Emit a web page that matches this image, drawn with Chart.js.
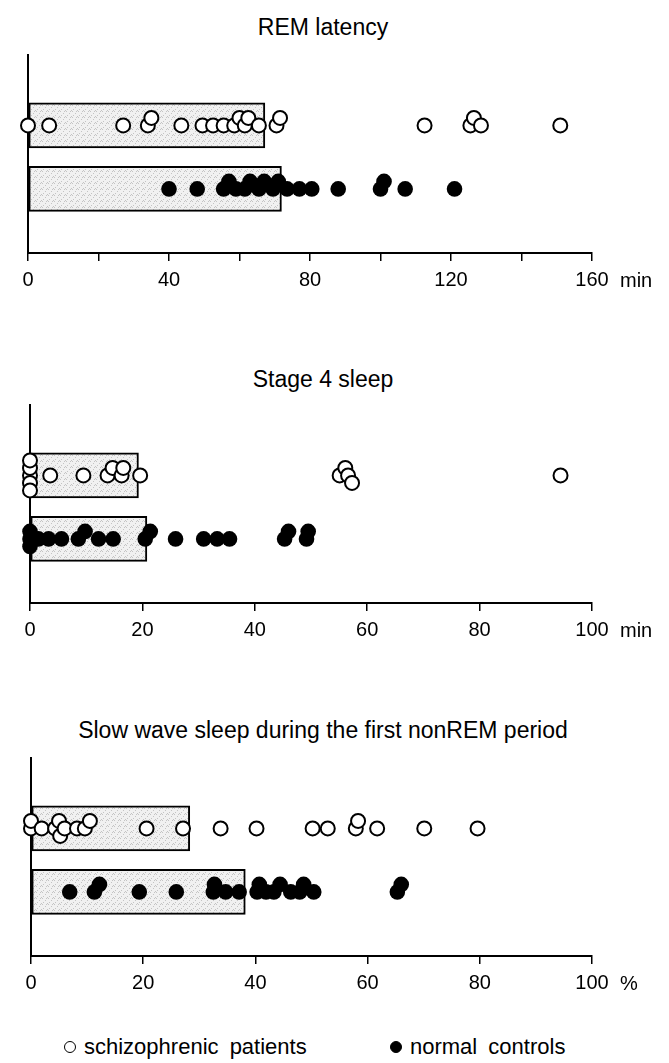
<!DOCTYPE html>
<html>
<head>
<meta charset="utf-8">
<script src="https://cdn.jsdelivr.net/npm/chart.js@4.4.1/dist/chart.umd.min.js"></script>
<style>
  html, body { margin: 0; padding: 0; background: #fff; }
  body { width: 669px; height: 1063px; position: relative; overflow: hidden;
         font-family: "Liberation Sans", Arial, sans-serif; color: #000; }
  .panel { position: absolute; left: 0; }
  .title { position: absolute; left: 0; width: 646px; text-align: center;
           font-size: 23px; line-height: 24px; }
  .legend { position: absolute; top: 1034px; font-size: 22px; line-height: 26px;
            word-spacing: 5px; white-space: nowrap; }
  .sym { display: inline-block; width: 12px; height: 12px; border-radius: 50%;
         border: 1.5px solid #000; box-sizing: border-box; margin-right: 8px;
         vertical-align: 1px; }
</style>
</head>
<body>

<div class="title" style="top:15px">REM latency</div>
<div class="panel" style="top:45px"><canvas id="remChart" width="669" height="258"></canvas></div>

<div class="title" style="top:367px">Stage 4 sleep</div>
<div class="panel" style="top:395px"><canvas id="stage4Chart" width="669" height="258"></canvas></div>

<div class="title" style="top:718px">Slow wave sleep during the first nonREM period</div>
<div class="panel" style="top:748px"><canvas id="swsChart" width="669" height="258"></canvas></div>

<div class="legend" style="left:64px"><span class="sym"></span>schizophrenic patients</div>
<div class="legend" style="left:390px"><span class="sym" style="background:#000"></span>normal controls</div>

<script>
// values (minutes / percent)
const remPatients = [0, 6, 27, 34, 35, 43.5, 49.5, 52.5, 55.5, 58.5, 60, 61.5, 62.5, 65.5,
  70.5, 71.5, 112.5, 125.5, 126.5, 128.5, 151];
const remControls = [40, 48, 55.5, 57, 59, 61.5, 63, 65.5, 67, 69.5, 71, 73.5, 77, 80.5,
  88, 100, 101, 107, 121];
const remMeans = [67.2, 71.9]; // patients, controls

const stage4Patients = [0, 0, 0, 0, 0, 3.6, 9.5, 13.8, 14.7, 16.3, 16.6, 19.6,
  55.1, 56.1, 56.6, 57.3, 94.4];
const stage4Controls = [0, 0, 0, 1.5, 3.3, 5.6, 8.6, 9.8, 12.2, 14.8, 20.5, 21.4, 25.9,
  30.9, 33.3, 35.5, 45.3, 46, 49.2, 49.5];
const stage4Means = [19.3, 20.8];

const swsPatients = [0, 0, 1.9, 4.3, 5.0, 5.2, 6.0, 8.2, 9.6, 10.5, 20.6, 27.1, 33.8,
  40.2, 50.2, 52.9, 57.9, 58.3, 61.7, 70.1, 79.6];
const swsControls = [6.9, 11.3, 12.2, 19.3, 25.9, 32.5, 32.7, 34.7, 37.1, 40.3, 40.7,
  41.9, 43.3, 44.4, 46.3, 47.9, 48.6, 50.4, 65.3, 66];
const swsMeans = [28.3, 38.2];

// row centres on the (hidden) vertical scale
const ROW_PATIENTS = 1.75;
const ROW_CONTROLS = 0.75;
const STEP = 7.5;      // px between stacked dots
const MIN_DIST = 7.5;  // px, dots closer than this get pushed up/down

// light stippled fill like the printed bars
function stipple() {
  const c = document.createElement("canvas");
  c.width = 6; c.height = 6;
  const g = c.getContext("2d");
  g.fillStyle = "#f1f1f1";
  g.fillRect(0, 0, 6, 6);
  g.fillStyle = "#c4c4c4";
  [[0, 0], [3, 2], [1, 4], [5, 5], [4, 0]].forEach(([x, y]) => g.fillRect(x, y, 1, 1));
  return g.createPattern(c, "repeat");
}
const barFill = stipple();

// unit text after the last tick label
const unitLabel = {
  id: "unitLabel",
  afterDraw(chart, args, opts) {
    const { ctx, scales } = chart;
    const x = scales.x.getPixelForValue(scales.x.max) + 28;
    const y = chart.chartArea.bottom + 28;
    ctx.save();
    ctx.font = '20px "Liberation Sans", Arial, sans-serif';
    ctx.fillStyle = "#000";
    ctx.textBaseline = "middle";
    ctx.fillText(opts.text, x, y);
    ctx.restore();
  },
};

// spread overlapping dots vertically (deterministic, sorted by value)
function swarm(chart, values, row) {
  const xs = chart.scales.x;
  const ys = chart.scales.y;
  const pxPerUnit = ys.getPixelForValue(0) - ys.getPixelForValue(1);
  const placed = [];
  const out = new Array(values.length);
  const order = values.map((v, i) => i).sort((a, b) => values[a] - values[b]);
  order.forEach((i) => {
    const px = xs.getPixelForValue(values[i]);
    let dy = 0;
    for (let k = 0; k < 30; k++) {
      dy = k === 0 ? 0 : (k % 2 ? -1 : 1) * Math.ceil(k / 2) * STEP;
      if (placed.every((p) => Math.hypot(p.x - px, p.y - dy) >= MIN_DIST)) break;
    }
    placed.push({ x: px, y: dy });
    out[i] = { x: values[i], y: row - dy / pxPerUnit };
  });
  return out;
}

function makePanel(id, left, max, labelEvery, unit, patients, controls, means) {
  const chart = new Chart(document.getElementById(id), {
    type: "bar",
    data: {
      datasets: [
        {
          type: "scatter",
          data: [],
          backgroundColor: "#fff",
          borderColor: "#000",
          borderWidth: 2,
          pointRadius: 7,
          clip: false,
          order: 1,
        },
        {
          type: "scatter",
          data: [],
          backgroundColor: "#000",
          borderColor: "#000",
          borderWidth: 0,
          pointRadius: 7.8,
          clip: false,
          order: 1,
        },
        {
          type: "bar",
          data: [
            { x: means[0], y: ROW_PATIENTS },
            { x: means[1], y: ROW_CONTROLS },
          ],
          backgroundColor: barFill,
          borderColor: "#000",
          borderWidth: 2,
          borderSkipped: false,
          barThickness: 45,
          order: 2,
        },
      ],
    },
    options: {
      indexAxis: "y",
      responsive: false,
      animation: false,
      events: [],
      layout: { padding: { left: left, right: 669 - 592, top: 10, bottom: 0 } },
      scales: {
        x: {
          type: "linear",
          min: 0,
          max: max,
          afterFit: (s) => { s.height = 50; },
          border: { display: true, color: "#000", width: 2 },
          grid: {
            display: true,
            drawOnChartArea: false,
            drawTicks: true,
            tickLength: 8,
            color: "#000",
            lineWidth: 1.5,
          },
          ticks: {
            stepSize: 20,
            autoSkip: false,
            maxRotation: 0,
            padding: 7,
            color: "#000",
            font: { family: '"Liberation Sans", Arial, sans-serif', size: 20 },
            callback: (v) => (v % labelEvery === 0 ? v : ""),
          },
        },
        y: {
          type: "linear",
          min: 0,
          max: 2.6,
          afterFit: (s) => { s.width = 0; },
          border: { display: true, color: "#000", width: 2 },
          grid: { display: false },
          ticks: { display: false },
        },
      },
      plugins: {
        legend: { display: false },
        tooltip: { enabled: false },
        unitLabel: { text: unit },
      },
    },
    plugins: [unitLabel],
  });

  chart.data.datasets[0].data = swarm(chart, patients, ROW_PATIENTS);
  chart.data.datasets[1].data = swarm(chart, controls, ROW_CONTROLS);
  chart.update("none");
  return chart;
}

makePanel("remChart", 28, 160, 40, "min", remPatients, remControls, remMeans);
makePanel("stage4Chart", 30, 100, 20, "min", stage4Patients, stage4Controls, stage4Means);
makePanel("swsChart", 31, 100, 20, "%", swsPatients, swsControls, swsMeans);
</script>
</body>
</html>
